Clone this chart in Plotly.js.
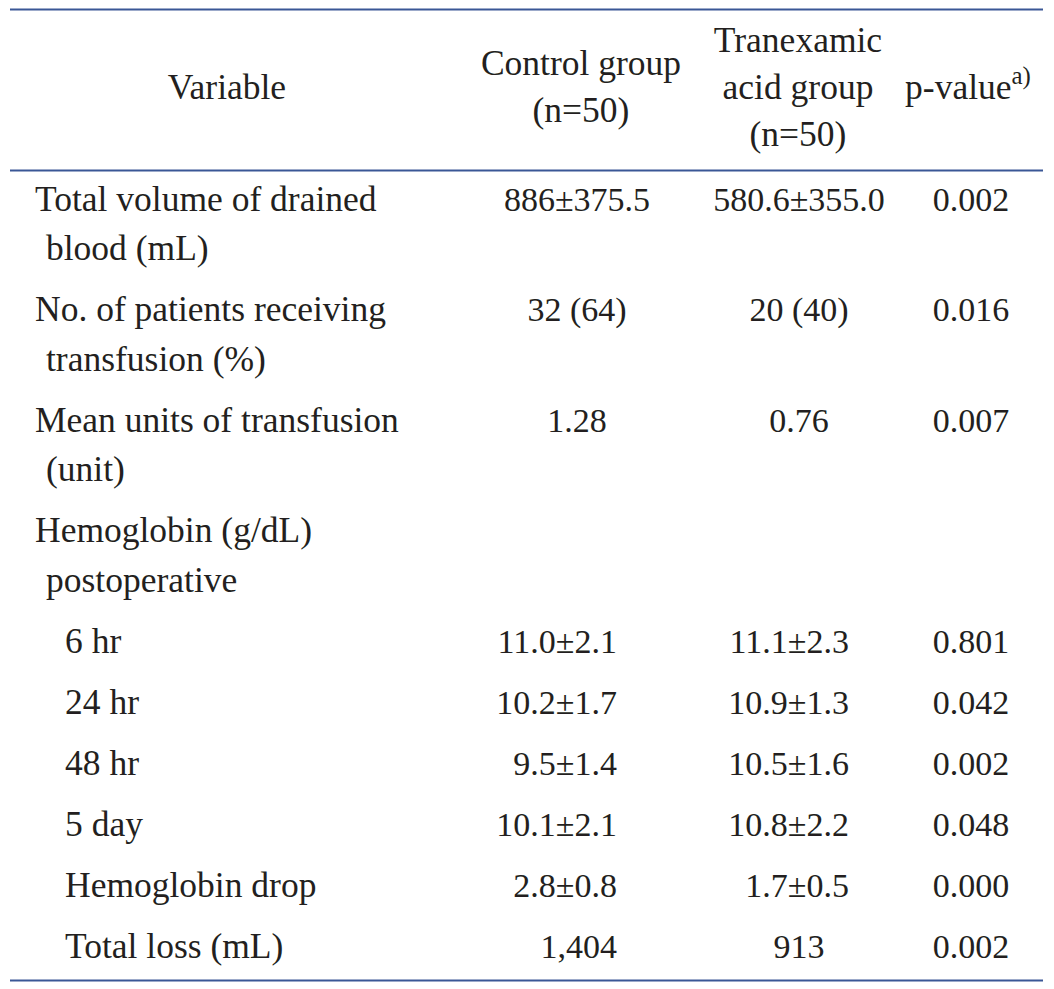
<!DOCTYPE html>
<html>
<head>
<meta charset="utf-8">
<script src="https://cdn.plot.ly/plotly-3.0.1.min.js"></script>
<style>
  html, body { margin: 0; padding: 0; background: #ffffff; }
  #chart { width: 1054px; height: 989px; }
</style>
</head>
<body>
<div id="chart"></div>
<script>
// ---------- DATA ----------
const headers = ["Variable", "Control group<br>(n=50)", "Tranexamic<br>acid group<br>(n=50)", "p-value<sup>a)</sup>"];
const variables = [
  "Total volume of drained<br>blood (mL)",
  "No. of patients receiving<br>transfusion (%)",
  "Mean units of transfusion<br>(unit)",
  "Hemoglobin (g/dL)<br>postoperative",
  "6 hr",
  "24 hr",
  "48 hr",
  "5 day",
  "Hemoglobin drop",
  "Total loss (mL)"
];
const controlGroup = ["886±375.5", "32 (64)", "1.28", "", "11.0±2.1", "10.2±1.7", "9.5±1.4", "10.1±2.1", "2.8±0.8", "1,404"];
const tranexamicGroup = ["580.6±355.0", "20 (40)", "0.76", "", "11.1±2.3", "10.9±1.3", "10.5±1.6", "10.8±2.2", "1.7±0.5", "913"];
const pValues = ["0.002", "0.016", "0.007", "", "0.801", "0.042", "0.002", "0.048", "0.000", "0.002"];

// ---------- STYLE / LAYOUT CONSTANTS ----------
const W = 1054, H = 989;
const FONT = "Liberation Serif";
const FS_WORD = 35.5;
const FS_NUM = 34;
const TXT = "#231f20";
const RULE = "#3a5796";
const indentLevel = [0, 0, 0, 0, 1, 1, 1, 1, 1, 1];
// alignment per body row for the two group columns: 'c' centre, 'r' right
const ctrlAlign = ['c', 'c', 'c', 'c', 'r', 'r', 'r', 'r', 'r', 'r'];
const tranAlign = ['c', 'c', 'c', 'c', 'r', 'r', 'r', 'r', 'r', 'c'];

const colX = { varLeft: 35, varCont: 46, varSub: 65, ctrlC: 577, ctrlR: 617, tranC: 799, tranR: 849, pC: 971 };
const headerCX = [227, 581, 798, 968];
const headerMid = 90, headerLine = 47;
const bodyStart = 202, lineGap = 49.5, rowGap = 61;

// ---------- BUILD POINTS ----------
const pts = { x: [], y: [], text: [], pos: [], size: [] };
function add(x, y, t, pos, s) { pts.x.push(x); pts.y.push(y); pts.text.push(t); pts.pos.push(pos); pts.size.push(s); }

// header
headers.forEach((h, c) => {
  const lines = h.split('<br>');
  lines.forEach((ln, j) => {
    const y = headerMid + (j - (lines.length - 1) / 2) * headerLine;
    add(headerCX[c], y, ln, 'middle center', FS_WORD);
  });
});

// body
let y = bodyStart;
variables.forEach((v, r) => {
  const lines = v.split('<br>');
  lines.forEach((ln, j) => {
    let x;
    if (indentLevel[r] === 1) x = colX.varSub;
    else x = j === 0 ? colX.varLeft : colX.varCont;
    add(x, y + j * lineGap, ln, 'middle right', FS_WORD);
  });
  if (controlGroup[r]) {
    if (ctrlAlign[r] === 'c') add(colX.ctrlC, y, controlGroup[r], 'middle center', FS_NUM);
    else add(colX.ctrlR, y, controlGroup[r], 'middle left', FS_NUM);
  }
  if (tranexamicGroup[r]) {
    if (tranAlign[r] === 'c') add(colX.tranC, y, tranexamicGroup[r], 'middle center', FS_NUM);
    else add(colX.tranR, y, tranexamicGroup[r], 'middle left', FS_NUM);
  }
  if (pValues[r]) add(colX.pC, y, pValues[r], 'middle center', FS_NUM);
  y += (lines.length - 1) * lineGap + rowGap;
});

const trace = {
  type: 'scatter',
  mode: 'text',
  x: pts.x, y: pts.y, text: pts.text, textposition: pts.pos,
  textfont: { family: FONT, size: pts.size, color: TXT },
  hoverinfo: 'skip',
  cliponaxis: false,
  showlegend: false
};

const rule = (yy) => ({
  type: 'line', xref: 'x', yref: 'y', x0: 10, x1: 1043, y0: yy, y1: yy,
  line: { color: RULE, width: 2.2 }
});

const layout = {
  width: W, height: H,
  margin: { l: 0, r: 0, t: 0, b: 0, pad: 0 },
  paper_bgcolor: '#ffffff', plot_bgcolor: '#ffffff',
  xaxis: { range: [0, W], visible: false, fixedrange: true },
  yaxis: { range: [H, 0], visible: false, fixedrange: true },
  shapes: [rule(9.5), rule(170.5), rule(980.5)],
  showlegend: false,
  hovermode: false
};

Plotly.newPlot('chart', [trace], layout, { staticPlot: true, displayModeBar: false });
</script>
</body>
</html>
